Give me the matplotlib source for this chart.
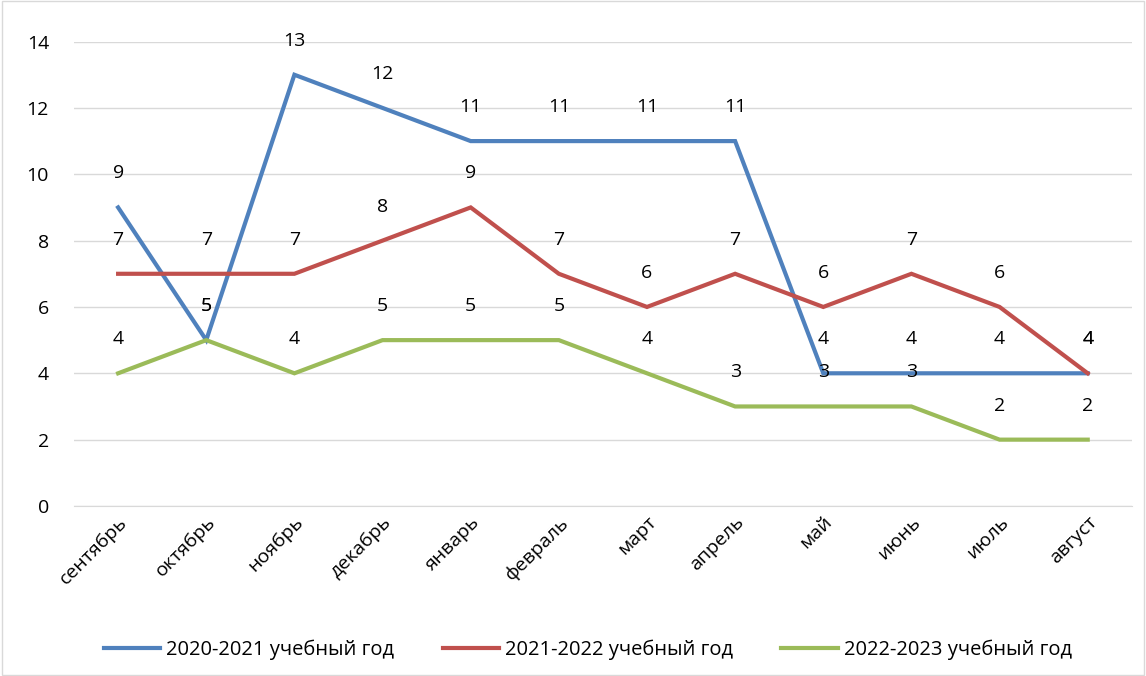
import matplotlib.pyplot as plt
import numpy as np

plt.rcParams['font.family'] = ['Open Sans', 'DejaVu Sans']

months = ['сентябрь', 'октябрь', 'ноябрь', 'декабрь', 'январь', 'февраль',
          'март', 'апрель', 'май', 'июнь', 'июль', 'август']
y2020 = [9, 5, 13, 12, 11, 11, 11, 11, 4, 4, 4, 4]
y2021 = [7, 7, 7, 8, 9, 7, 6, 7, 6, 7, 6, 4]
y2022 = [4, 5, 4, 5, 5, 5, 4, 3, 3, 3, 2, 2]

series = [
    ('2020-2021 учебный год', y2020, '#4F81BD'),
    ('2021-2022 учебный год', y2021, '#C0504D'),
    ('2022-2023 учебный год', y2022, '#9BBB59'),
]

fig = plt.figure(figsize=(11.46, 6.76), dpi=100)
ax = fig.add_axes([0.0646, 0.2515, 0.923, 0.687])

x = np.arange(len(months))
for name, vals, color in series:
    ax.plot(x, vals, color=color, linewidth=3, label=name, solid_joinstyle='miter')
    for xi, v in zip(x, vals):
        ax.annotate(str(v), (xi, v), xytext=(0, 24.5), textcoords='offset points',
                    ha='center', va='center', fontsize=14, color='black')

ax.set_xlim(-0.5, len(months) - 0.5)
ax.set_ylim(0, 14)
ax.set_yticks(range(0, 15, 2))
ax.set_xticks(x)
ax.set_xticklabels(months, rotation=45, ha='right', rotation_mode='anchor', fontsize=14)
ax.tick_params(axis='y', labelsize=14, length=0, pad=18)
ax.tick_params(axis='x', length=0, pad=5)
ax.grid(axis='y', color='#D9D9D9', linewidth=1)
ax.set_axisbelow(True)
for s in ['top', 'right', 'left']:
    ax.spines[s].set_visible(False)
ax.spines['bottom'].set_color('#D9D9D9')

fig.legend(loc='lower center', bbox_to_anchor=(0.513, -0.003), ncol=3, frameon=False,
           fontsize=14.5, handlelength=2.8, handletextpad=0.3, columnspacing=2.4)

border = plt.Rectangle((0.002, 0.002), 0.996, 0.996, transform=fig.transFigure,
                       fill=False, edgecolor='#D9D9D9', linewidth=1)
fig.patches.append(border)

fig.savefig('out.png', dpi=100)
